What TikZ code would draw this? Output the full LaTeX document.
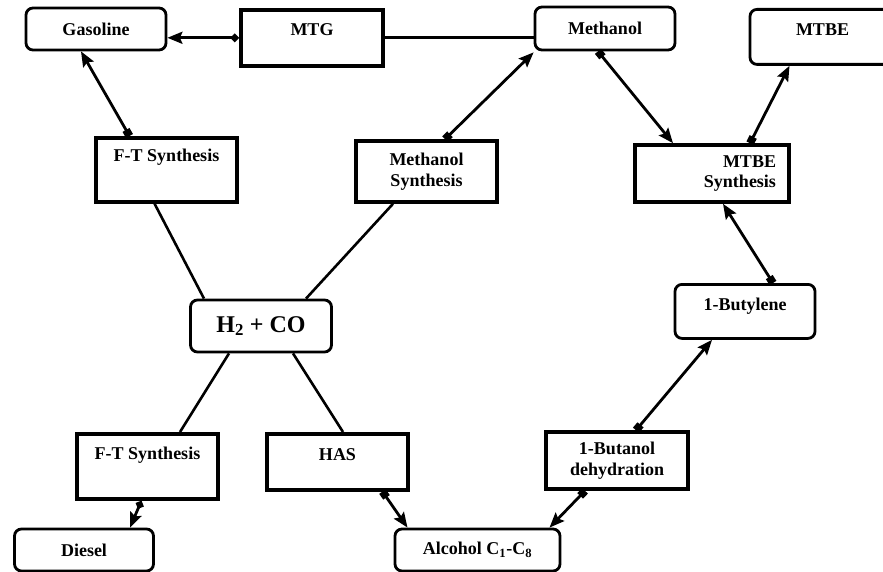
\documentclass[tikz,border=0pt]{standalone}
\usepackage{fontspec}
\setmainfont{Liberation Serif}
\usetikzlibrary{calc,arrows.meta}

\begin{document}
\begin{tikzpicture}[x=1pt, y=-1pt,
		box/.style={draw, line width=3.6pt, inner xsep=0pt, font=\fontsize{18}{20.5}\selectfont\bfseries},
		rbox/.style={draw, rounded corners=7pt, line width=2.8pt, inner xsep=0pt, font=\fontsize{18}{20.5}\selectfont\bfseries},
		toptext/.style={anchor=north, inner ysep=0pt, text height=26pt, text depth=#1},
		link/.style={line width=2.8pt, arrows={Square[length=7pt,width=8pt]-Stealth[length=15pt,width=12pt,inset=2.5pt]}},
		dlink/.style={line width=2.8pt, arrows={Turned Square[length=9pt,width=9pt]-Stealth[length=15pt,width=12pt,inset=2.5pt]}},
		plain/.style={line width=2.6pt}]
			%%%%% START %%%%%
			
			\useasboundingbox (0, 0) rectangle (883, 572);
			
			% top row
			\node[rbox, minimum width=140pt, minimum height=42pt] (gasoline) at (96, 29) {Gasoline};
			\node[box, toptext=30pt, minimum width=142pt] (mtg) at (312, 8) {MTG};
			\node[rbox, minimum width=140pt, minimum height=43pt] (methanol) at (605, 28.5) {Methanol};
			\node[rbox, toptext=29pt, minimum width=145pt] (mtbe) at (822.5, 8) {MTBE};
			
			% synthesis row
			\node[box, toptext=40pt, text height=24pt, minimum width=141pt] (ftsyn) at (166.5, 136) {F-T Synthesis};
			\node[box, align=center, minimum width=141pt, minimum height=61pt] (methsyn) at (426.5, 171.5) {Methanol\\Synthesis};
			\node[box, align=right, text width=128pt, inner xsep=13pt, minimum height=57pt] (mtbesyn) at (712, 173.5) {MTBE\\Synthesis};
			
			% middle
			\node[rbox, minimum width=141pt, minimum height=52pt, font=\fontsize{24}{26}\selectfont\bfseries] (syngas) at (261, 326) {H\textsubscript{2} + CO};
			\node[rbox, toptext=28pt, minimum width=140pt] (butylene) at (745, 283) {1-Butylene};
			
			% bottom row
			\node[box, toptext=39pt, minimum width=141pt] (ftdiesel) at (147.5, 432) {F-T Synthesis};
			\node[box, toptext=29pt, text height=27pt, minimum width=141pt] (has) at (337.5, 432) {HAS};
			\node[box, align=center, minimum width=142pt, minimum height=57pt] (butanol) at (617, 460.5) {1-Butanol\\dehydration};
			\node[rbox, minimum width=139pt, minimum height=42pt] (diesel) at (84, 550) {Diesel};
			\node[rbox, minimum width=165pt, minimum height=42pt] (alcohol) at (477.5, 550) {Alcohol C\textsubscript{1}-C\textsubscript{8}};
			
			% connectors
			\draw[dlink] (mtg.west) -- (mtg.west -| gasoline.east);
			\draw[plain] (mtg.east) -- (mtg.east -| methanol.west);
			\draw[link] ([xshift=-37pt]ftsyn.north) -- ([xshift=-15pt]gasoline.south);
			\draw[link] ([xshift=18.5pt]methsyn.north) -- ([yshift=-1pt]methanol.south west);
			\draw[link] ([xshift=-7pt]methanol.south) -- ([xshift=-39pt]mtbesyn.north);
			\draw[link] ([xshift=38pt]mtbesyn.north) -- ([xshift=-33pt]mtbe.south);
			\draw[link] ([xshift=28pt]butylene.north) -- ([xshift=11pt]mtbesyn.south);
			\draw[link] ([xshift=19pt]butanol.north) -- ([xshift=-33pt]butylene.south);
			\draw[link] ([xshift=-32pt]butanol.south) -- ([xshift=72pt]alcohol.north);
			\draw[link] ([xshift=45pt]has.south) -- ([xshift=-70pt]alcohol.north);
			\draw[dlink] ([xshift=-6pt]ftdiesel.south) -- ([xshift=46pt]diesel.north);
			
			\draw[plain] ([xshift=-12pt]ftsyn.south) -- ([xshift=-57pt]syngas.north);
			\draw[plain] ([xshift=-33.5pt]methsyn.south) -- ([xshift=45pt]syngas.north);
			\draw[plain] ([xshift=-32pt]syngas.south) -- ([xshift=32.5pt]ftdiesel.north);
			\draw[plain] ([xshift=32pt]syngas.south) -- ([xshift=5.5pt]has.north);
			
			%%%%% END %%%%%
		\end{tikzpicture}
\end{document}
